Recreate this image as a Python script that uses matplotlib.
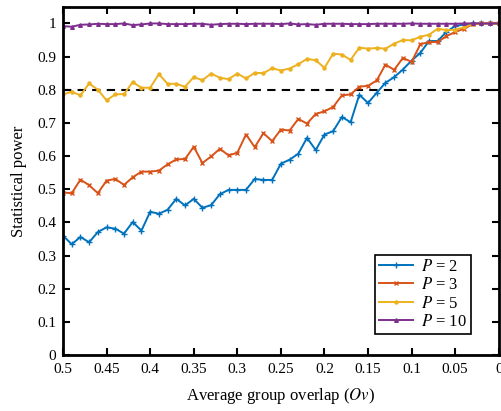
import numpy as np
import matplotlib
matplotlib.use('Agg')
import matplotlib.pyplot as plt

plt.rcParams['font.family'] = ['Liberation Serif', 'DejaVu Serif']
plt.rcParams['mathtext.fontset'] = 'stix'

# average group overlap, 0.5 -> 0 in steps of 0.01
overlap = [round(0.5 - 0.01 * i, 2) for i in range(51)]

power_p2 = [0.360, 0.334, 0.356, 0.340, 0.371, 0.385, 0.381, 0.366, 0.401, 0.375,
            0.432, 0.426, 0.438, 0.471, 0.451, 0.471, 0.444, 0.452, 0.485, 0.498,
            0.498, 0.498, 0.531, 0.528, 0.528, 0.577, 0.589, 0.607, 0.655, 0.618,
            0.665, 0.675, 0.718, 0.702, 0.785, 0.760, 0.791, 0.821, 0.838, 0.861,
            0.888, 0.911, 0.947, 0.947, 0.975, 0.992, 0.997, 1.000, 1.000, 1.000,
            1.000]
power_p3 = [0.490, 0.488, 0.529, 0.512, 0.488, 0.526, 0.531, 0.513, 0.536, 0.553,
            0.553, 0.556, 0.575, 0.590, 0.591, 0.628, 0.579, 0.599, 0.622, 0.602,
            0.610, 0.665, 0.627, 0.669, 0.645, 0.680, 0.677, 0.712, 0.698, 0.727,
            0.735, 0.748, 0.783, 0.786, 0.809, 0.812, 0.828, 0.876, 0.860, 0.896,
            0.884, 0.937, 0.944, 0.944, 0.962, 0.974, 0.984, 0.997, 1.000, 1.000,
            1.000]
power_p5 = [0.786, 0.794, 0.783, 0.819, 0.800, 0.768, 0.786, 0.787, 0.823, 0.806,
            0.806, 0.847, 0.818, 0.818, 0.809, 0.838, 0.829, 0.849, 0.836, 0.832,
            0.849, 0.834, 0.851, 0.850, 0.865, 0.858, 0.864, 0.877, 0.893, 0.889,
            0.866, 0.909, 0.906, 0.890, 0.927, 0.924, 0.926, 0.924, 0.939, 0.950,
            0.949, 0.960, 0.966, 0.984, 0.980, 0.981, 0.988, 0.998, 1.000, 1.000,
            1.000]
power_p10 = [0.992, 0.990, 0.996, 0.997, 0.999, 0.998, 0.998, 1.000, 0.995, 0.997,
             1.000, 1.000, 0.998, 0.998, 0.998, 0.999, 0.999, 0.996, 0.998, 0.999,
             0.999, 0.998, 0.999, 0.999, 0.999, 0.998, 1.000, 0.997, 0.998, 0.996,
             0.999, 0.999, 0.999, 0.998, 0.998, 0.998, 0.999, 0.999, 0.999, 0.999,
             1.000, 0.999, 0.999, 0.999, 0.999, 0.999, 1.000, 1.000, 1.000, 1.000,
             1.000]

series = [
    (power_p2, r'$P$ = 2', '#0072BD', '+', 4.5),
    (power_p3, r'$P$ = 3', '#D95319', 'x', 2.5),
    (power_p5, r'$P$ = 5', '#EDB120', 'o', 2.2),
    (power_p10, r'$P$ = 10', '#7E2F8E', '^', 2.6),
]
threshold = 0.8

fig = plt.figure(figsize=(5.02, 4.11), dpi=100)
ax = fig.add_axes([0.1255, 0.1363, 0.868, 0.847])

ax.axhline(threshold, color='black', ls=(0, (4, 3)), lw=1.5, zorder=1)
for vals, lab, col, mk, ms in series:
    ax.plot(overlap, vals, color=col, marker=mk, markersize=ms, lw=1.4,
            markeredgewidth=1.0, label=lab)

ax.set_xlim(0.5, 0)
ax.set_ylim(0, 1.05)
ax.set_xticks(np.arange(0, 0.501, 0.05))
ax.set_xticklabels(['0', '0.05', '0.1', '0.15', '0.2', '0.25', '0.3', '0.35',
                    '0.4', '0.45', '0.5'])
ax.set_yticks(np.arange(0, 1.01, 0.1))
ax.set_yticklabels(['0', '0.1', '0.2', '0.3', '0.4', '0.5', '0.6', '0.7',
                    '0.8', '0.9', '1'])
ax.tick_params(direction='in', top=True, right=True, length=5, width=1.5,
               labelsize=11)
ax.tick_params(axis='x', pad=6)
ax.tick_params(axis='y', pad=5)
for sp in ax.spines.values():
    sp.set_linewidth(2)

ax.set_xlabel(r'Average group overlap ($\mathit{Ov}$)', fontsize=12, labelpad=7)
ax.set_ylabel('Statistical power', fontsize=12, labelpad=7)

leg = ax.legend(loc='lower right', bbox_to_anchor=(0.955, 0.035), fontsize=12,
                fancybox=False, edgecolor='black', framealpha=1,
                handlelength=2.0, handletextpad=0.5, borderpad=0.25,
                labelspacing=0.15)
leg.get_frame().set_linewidth(1.2)

plt.savefig('out.png', dpi=100)
plt.close()
